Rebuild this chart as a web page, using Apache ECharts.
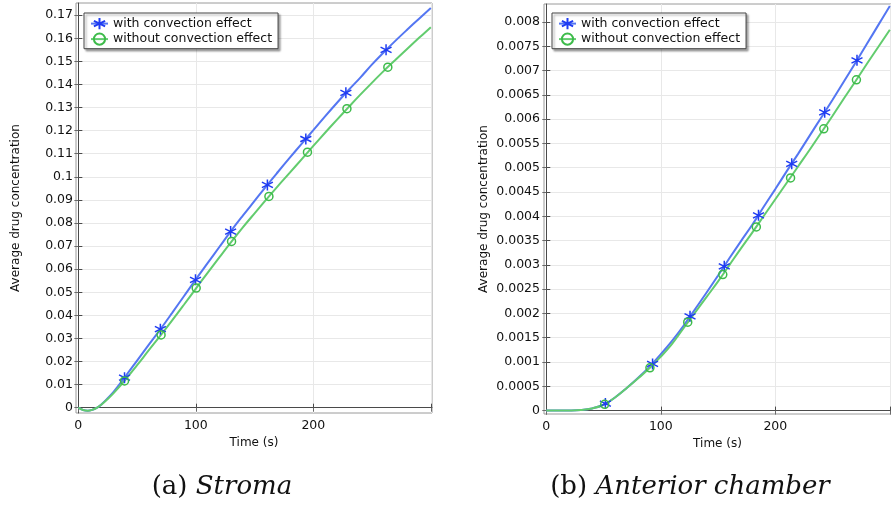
<!DOCTYPE html>
<html>
<head>
<meta charset="utf-8">
<script src="https://cdn.jsdelivr.net/npm/echarts@6/dist/echarts.min.js"></script>
<style>
  html, body { margin: 0; padding: 0; background: #ffffff; }
  #chart { width: 891px; height: 507px; }
</style>
</head>
<body>
<div id="chart"></div>
<script>
// ---- Stroma: average drug concentration vs time ----
const stromaTime = [0, 4, 8, 12, 16, 20, 25, 30, 40, 50, 60, 70, 80, 90, 100, 110, 120, 130, 140, 150,
  160, 170, 180, 190, 200, 210, 220, 230, 240, 250, 260, 270, 280, 290, 300];
const stromaWith = [0, -0.0010, -0.0013, -0.0009, 0.0000, 0.0016, 0.0041, 0.0068, 0.0135, 0.0204, 0.0273,
  0.0341, 0.0412, 0.0484, 0.0556, 0.0626, 0.0696, 0.0766, 0.0832, 0.0896, 0.0960, 0.1022, 0.1083, 0.1143,
  0.1202, 0.1262, 0.1320, 0.1376, 0.1430, 0.1487, 0.1540, 0.1590, 0.1638, 0.1685, 0.1731];
const stromaWithout = [0, -0.0010, -0.0013, -0.0009, 0.0000, 0.0015, 0.0038, 0.0063, 0.0121, 0.0184, 0.0249,
  0.0313, 0.0379, 0.0447, 0.0516, 0.0584, 0.0651, 0.0717, 0.0781, 0.0842, 0.0902, 0.0961, 0.1018, 0.1076,
  0.1134, 0.1191, 0.1247, 0.1302, 0.1356, 0.1408, 0.1459, 0.1507, 0.1555, 0.1602, 0.1648];
// marker positions along each curve
const stromaWithMarkT = [39.3, 69.8, 99.7, 129.6, 160.9, 193.6, 227.7, 261.9];
const stromaWithMarkV = [0.0130, 0.0340, 0.0554, 0.0763, 0.0965, 0.1164, 0.1364, 0.1550];
const stromaWithoutMarkT = [39.3, 70.4, 100.3, 130.4, 162.2, 195.0, 228.6, 263.4];
const stromaWithoutMarkV = [0.0116, 0.0315, 0.0518, 0.0720, 0.0915, 0.1107, 0.1295, 0.1475];

// ---- Anterior chamber: average drug concentration vs time ----
const chamberTime = [0, 10, 20, 30, 40, 50, 60, 70, 80, 90, 100, 110, 120, 130, 140, 150, 160, 170, 180,
  190, 200, 210, 220, 230, 240, 250, 260, 270, 280, 290, 300];
const chamberWith = [0, 0, 0.000002, 0.000012, 0.000045, 0.00012, 0.00027, 0.00046, 0.00067, 0.00090,
  0.00116, 0.00144, 0.00175, 0.00209, 0.00243, 0.00278, 0.00314, 0.00349, 0.00383, 0.00420, 0.00456,
  0.00493, 0.00529, 0.00566, 0.00603, 0.00640, 0.00678, 0.00716, 0.00755, 0.00794, 0.00833];
const chamberWithout = [0, 0, 0.000002, 0.000012, 0.000045, 0.00012, 0.00027, 0.00046, 0.00066, 0.00087,
  0.00111, 0.00138, 0.00170, 0.00202, 0.00234, 0.00266, 0.00300, 0.00334, 0.00367, 0.00401, 0.00435,
  0.00469, 0.00503, 0.00537, 0.00572, 0.00607, 0.00643, 0.00678, 0.00714, 0.00749, 0.00784];
const chamberWithMarkT = [51.6, 92.8, 125.5, 155.4, 185.3, 214.3, 243.1, 271.3];
const chamberWithMarkV = [0.000144, 0.000961, 0.00194, 0.00297, 0.00402, 0.00508, 0.00614, 0.00721];
const chamberWithoutMarkT = [51.0, 90.5, 123.5, 154.1, 183.4, 213.3, 242.3, 270.8];
const chamberWithoutMarkV = [0.00013, 0.00088, 0.00182, 0.00280, 0.00378, 0.00479, 0.00580, 0.00681];

// axis ticks
const timeTicks = [0, 100, 200, 300];
const timeLabels = [0, 100, 200];
const stromaTicks = [0, 0.01, 0.02, 0.03, 0.04, 0.05, 0.06, 0.07, 0.08, 0.09, 0.10, 0.11, 0.12, 0.13,
  0.14, 0.15, 0.16, 0.17];
const chamberTicks = [0, 0.0005, 0.001, 0.0015, 0.002, 0.0025, 0.003, 0.0035, 0.004, 0.0045, 0.005,
  0.0055, 0.006, 0.0065, 0.007, 0.0075, 0.008];

const seriesNames = ['with convection effect', 'without convection effect'];
const captions = [['(a)', 'Stroma'], ['(b)', 'Anterior chamber']];

// ---- styling ----
const FONT = 'DejaVu Sans';
const BLUE_LINE = '#5476f2';
const BLUE_MARK = '#1f3cf2';
const GREEN_LINE = '#62cc6e';
const GREEN_MARK = '#3dbb4a';
const STAR = 'path://M0,-6L0,6M-5.2,-3L5.2,3M-5.2,3L5.2,-3';

const zip = (xs, ys) => xs.map((x, i) => [x, ys[i]]);
const fmt = v => String(parseFloat(Number(v).toFixed(6)));

function xAxisPair(grid) {
  return [{
    type: 'value', gridIndex: grid, min: -2, max: 301,
    name: 'Time (s)', nameLocation: 'middle', nameGap: 20,
    nameTextStyle: { fontFamily: FONT, fontSize: 12, color: '#111' },
    axisLine: { show: true, lineStyle: { color: '#4a4a4a', width: 1 } },
    axisTick: { show: true, inside: true, length: 4, customValues: timeTicks, lineStyle: { color: '#4a4a4a' } },
    axisLabel: { customValues: timeLabels, margin: 6, fontFamily: FONT, fontSize: 12.5, color: '#111', formatter: fmt },
    splitLine: { show: true, lineStyle: { color: '#e8e8e8', width: 1 } }
  }, {
    type: 'value', gridIndex: grid, min: -2, max: 301, position: 'top',
    axisLine: { show: false },
    axisTick: { show: true, inside: true, length: 4, customValues: timeTicks, lineStyle: { color: '#6a6a6a' } },
    axisLabel: { show: false }, splitLine: { show: false }
  }];
}

function yAxisPair(grid, min, max, ticks, gap, margin) {
  return [{
    type: 'value', gridIndex: grid, min: min, max: max,
    name: 'Average drug concentration', nameLocation: 'middle', nameRotate: 90, nameGap: gap,
    nameTextStyle: { fontFamily: FONT, fontSize: 12, color: '#111' },
    axisLine: { show: true, lineStyle: { color: '#4a4a4a', width: 1 } },
    axisTick: { show: true, inside: true, length: 4, customValues: ticks, lineStyle: { color: '#4a4a4a' } },
    axisLabel: { customValues: ticks, margin: margin, fontFamily: FONT, fontSize: 12.5, color: '#111', formatter: fmt },
    splitLine: { show: true, lineStyle: { color: '#e8e8e8', width: 1 } }
  }, {
    type: 'value', gridIndex: grid, min: min, max: max, position: 'right',
    axisLine: { show: false },
    axisTick: { show: true, inside: true, length: 4, customValues: ticks, lineStyle: { color: '#6a6a6a' } },
    axisLabel: { show: false }, splitLine: { show: false }
  }];
}

function curve(name, xi, yi, t, v, color, markColor, symbol, fill) {
  return {
    type: 'line', name: name, xAxisIndex: xi, yAxisIndex: yi,
    data: zip(t, v), smooth: 0.4, showSymbol: false,
    symbol: symbol, symbolSize: 10,
    lineStyle: { color: color, width: 2 },
    itemStyle: { color: fill, borderColor: markColor, borderWidth: 1.5 },
    emphasis: { disabled: true }, z: 3
  };
}

function marks(name, xi, yi, t, v, markColor, symbol, size, fill) {
  return {
    type: 'scatter', name: name, xAxisIndex: xi, yAxisIndex: yi,
    data: zip(t, v), symbol: symbol, symbolSize: size,
    itemStyle: { color: fill, borderColor: markColor, borderWidth: 1.5, opacity: 1 },
    emphasis: { disabled: true }, z: 4
  };
}

function legendAt(left) {
  return {
    left: left, top: 13, orient: 'vertical',
    data: seriesNames, itemWidth: 17, itemHeight: 14, itemGap: 2.3,
    padding: [4, 6, 3, 6],
    backgroundColor: '#ffffff', borderColor: '#444444', borderWidth: 1, borderRadius: 0,
    shadowColor: 'rgba(0,0,0,0.35)', shadowBlur: 2, shadowOffsetX: 2, shadowOffsetY: 2,
    textStyle: { fontFamily: FONT, fontSize: 12.5, color: '#111', padding: [0, 0, 0, 0] },
    selectedMode: false
  };
}

function caption(x, pair) {
  return {
    type: 'text', x: x, y: 487, z: 10,
    style: {
      text: '{n|' + pair[0] + ' }{i|' + pair[1] + '}',
      align: 'center', verticalAlign: 'middle',
      rich: {
        n: { fontFamily: 'DejaVu Serif', fontSize: 26, fill: '#111' },
        i: { fontFamily: 'DejaVu Serif', fontStyle: 'italic', fontSize: 26, fill: '#111' }
      }
    }
  };
}

const chart = echarts.init(document.getElementById('chart'), null, { renderer: 'canvas' });
chart.setOption({
  animation: false,
  backgroundColor: '#ffffff',
  grid: [
    { left: 76, top: 3, width: 356, height: 410, show: true, borderColor: '#9a9a9a', borderWidth: 1, backgroundColor: 'transparent' },
    { left: 544, top: 4, width: 357, height: 410, show: true, borderColor: '#9a9a9a', borderWidth: 1, backgroundColor: 'transparent' }
  ],
  xAxis: [...xAxisPair(0), ...xAxisPair(1)],
  yAxis: [
    ...yAxisPair(0, -0.0023, 0.1753, stromaTicks, 54, 3),
    ...yAxisPair(1, -0.00007, 0.00837, chamberTicks, 54, 4)
  ],
  legend: [legendAt(84), legendAt(552)],
  series: [
    curve(seriesNames[0], 0, 0, stromaTime, stromaWith, BLUE_LINE, BLUE_MARK, STAR, BLUE_MARK),
    curve(seriesNames[1], 0, 0, stromaTime, stromaWithout, GREEN_LINE, GREEN_MARK, 'circle', 'rgba(255,255,255,0)'),
    marks(seriesNames[0], 0, 0, stromaWithMarkT, stromaWithMarkV, BLUE_MARK, STAR, 11, BLUE_MARK),
    marks(seriesNames[1], 0, 0, stromaWithoutMarkT, stromaWithoutMarkV, GREEN_MARK, 'circle', 8, 'rgba(255,255,255,0)'),
    curve(seriesNames[0], 2, 2, chamberTime, chamberWith, BLUE_LINE, BLUE_MARK, STAR, BLUE_MARK),
    curve(seriesNames[1], 2, 2, chamberTime, chamberWithout, GREEN_LINE, GREEN_MARK, 'circle', 'rgba(255,255,255,0)'),
    marks(seriesNames[0], 2, 2, chamberWithMarkT, chamberWithMarkV, BLUE_MARK, STAR, 11, BLUE_MARK),
    marks(seriesNames[1], 2, 2, chamberWithoutMarkT, chamberWithoutMarkV, GREEN_MARK, 'circle', 8, 'rgba(255,255,255,0)')
  ],
  graphic: [caption(222, captions[0]), caption(690, captions[1])]
});
</script>
</body>
</html>
